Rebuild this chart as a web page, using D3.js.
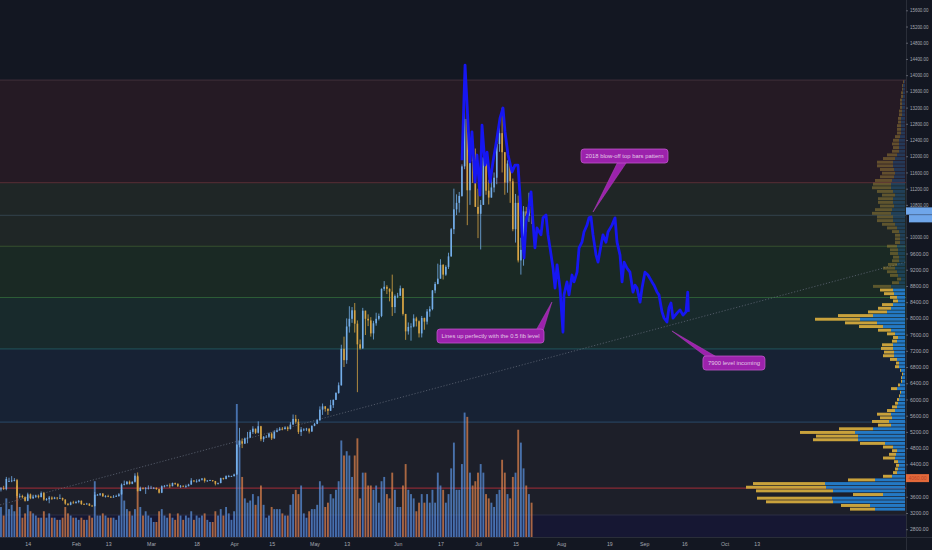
<!DOCTYPE html>
<html><head><meta charset="utf-8">
<script src="https://cdn.jsdelivr.net/npm/d3@7"></script>
<style>html,body{margin:0;padding:0;background:#131722;overflow:hidden}</style>
</head><body><svg id="c" width="932" height="550"></svg>
<script>
// ---------------- DATA ----------------
const firstCandleDay = "2019-01-04";
// daily [open, high, low, close]
const candles = [
// Jan 4-31
[3780,3840,3730,3810],[3810,3870,3770,3790],[3790,4090,3760,4040],[3990,4070,3970,3990],[3990,4110,3960,4000],
[4000,4060,3980,4010],[4010,4040,3570,3620],[3620,3680,3560,3620],[3620,3650,3560,3590],[3590,3610,3480,3500],
[3500,3700,3490,3660],[3660,3680,3540,3560],[3560,3650,3550,3600],[3600,3650,3570,3630],[3630,3640,3560,3590],
[3590,3730,3590,3690],[3690,3720,3500,3530],[3530,3570,3500,3540],[3540,3620,3440,3580],[3580,3610,3520,3550],
[3550,3600,3540,3580],[3580,3590,3530,3570],[3570,3660,3560,3570],[3570,3580,3500,3530],[3530,3540,3400,3430],
[3430,3440,3380,3400],[3400,3480,3390,3460],[3460,3500,3430,3440],
// Feb
[3440,3500,3440,3470],[3470,3520,3440,3500],[3500,3510,3400,3420],[3420,3440,3400,3410],[3410,3450,3410,3430],
[3430,3440,3370,3380],[3380,3400,3360,3370],[3370,3720,3360,3650],[3650,3670,3630,3650],[3650,3690,3620,3680],
[3680,3690,3600,3610],[3610,3640,3580,3620],[3620,3650,3590,3600],[3600,3620,3570,3580],[3580,3640,3580,3600],
[3600,3650,3600,3620],[3620,3690,3600,3660],[3660,3930,3650,3900],[3900,4000,3880,3910],[3910,3990,3900,3970],
[3970,4000,3900,3920],[3920,3980,3910,3970],[3970,4180,3950,4120],[4120,4200,3730,3740],[3740,3850,3740,3820],
[3820,3830,3780,3800],[3800,3840,3670,3810],[3810,3880,3780,3820],
// Mar
[3820,3870,3810,3820],[3820,3840,3790,3820],[3820,3830,3770,3790],[3790,3800,3680,3700],[3700,3880,3690,3860],
[3860,3890,3830,3870],[3870,3900,3860,3880],[3880,3930,3820,3860],[3860,3950,3860,3940],[3940,3950,3890,3920],
[3920,3930,3840,3860],[3860,3890,3820,3870],[3870,3880,3840,3860],[3860,3900,3820,3860],[3860,3920,3860,3900],
[3900,4060,3900,4000],[4000,4010,3960,3980],[3980,4030,3950,3980],[3980,4040,3970,4020],[4020,4060,4000,4050],
[4050,4070,3950,3990],[3990,4010,3970,4000],[4000,4020,3990,4010],[4010,4010,3970,3990],[3990,3990,3880,3920],
[3920,3950,3900,3940],[3940,4070,3930,4060],[4060,4070,4020,4040],[4040,4130,4030,4110],[4110,4140,4080,4110],
[4110,4120,4090,4110],
// Apr
[4110,4170,4100,4150],[4150,4900,4140,4880],[4880,5300,4820,4970],[4970,5040,4800,4910],[4910,5060,4900,5040],
[5040,5200,4920,5060],[5060,5250,5050,5200],[5200,5340,5150,5280],[5280,5280,5150,5180],[5180,5460,5160,5340],
[5340,5350,4970,5020],[5020,5100,4950,5080],[5080,5120,5060,5080],[5080,5180,5050,5160],[5160,5190,5000,5040],
[5040,5240,5030,5200],[5200,5290,5190,5240],[5240,5320,5230,5280],[5280,5320,5240,5270],[5270,5340,5260,5310],
[5310,5340,5220,5270],[5270,5440,5260,5380],[5380,5630,5380,5520],[5520,5620,5400,5450],[5450,5520,5150,5200],
[5200,5320,5100,5260],[5260,5290,5220,5260],[5260,5300,5220,5280],[5280,5290,5160,5210],[5210,5360,5200,5350],
// May
[5350,5420,5340,5400],[5400,5520,5390,5490],[5490,5830,5470,5750],[5750,5900,5620,5830],[5830,5840,5700,5770],
[5770,5780,5620,5720],[5720,5990,5720,5860],[5860,6000,5790,5990],[5990,6180,5990,6160],[6160,6420,6140,6350],
[6350,7350,6340,7250],[7250,7550,6800,6970],[6970,8000,6880,7800],[7800,8300,7650,7990],[7990,8280,7890,8200],
[8200,8380,7650,7870],[7870,7950,6180,7360],[7360,7480,7230,7260],[7260,8260,7250,8190],[8190,8190,7590,7990],
[7990,8100,7810,7950],[7950,8030,7550,7630],[7630,7940,7480,7880],[7880,8140,7820,7990],[7990,8120,7950,8060],
[8060,8740,8030,8730],[8730,8920,8680,8780],[8780,8820,8600,8730],[8730,8740,8420,8660],[8660,9080,8060,8280],
[8280,8590,8130,8550],
// Jun
[8550,8630,8500,8560],[8560,8810,8550,8740],[8740,8750,8070,8110],[8110,8110,7470,7680],[7680,7900,7600,7790],
[7790,7880,7450,7800],[7800,8100,7780,8000],[8000,8040,7800,7930],[7930,7950,7530,7630],[7630,8060,7530,8010],
[8010,8020,7720,7920],[7920,8230,7850,8170],[8170,8300,8040,8230],[8230,8700,8200,8690],[8690,8900,8620,8850],
[8850,9350,8840,8980],[8980,9460,8980,9320],[9320,9340,8960,9080],[9080,9310,9050,9270],[9270,9620,9220,9530],
[9530,10230,9520,10200],[10200,11200,10080,10690],[10690,11060,10550,10850],[10850,11120,10610,11020],[11020,11800,11000,11750],
[11750,13880,11680,12920],[12920,13300,10300,11160],[11160,12450,10800,12370],[12370,12400,11340,11880],[11880,12190,10760,10750],
// Jul 1-21
[10750,11200,9980,10580],[10580,10920,9700,10800],[10800,11980,10800,11970],[11970,12050,11050,11150],[11150,11420,10810,10980],
[10980,11700,10980,11230],[11230,11600,11110,11470],[11470,12350,11310,12300],[12300,12800,12110,12570],[12570,13200,11600,12100],
[12100,12100,11050,11350],[11350,11900,11100,11820],[11820,11840,10850,11380],[11380,11450,10150,10200],[10200,11070,9870,10850],
[10850,11030,9380,9430],[9430,9990,9080,9690],[9690,10770,9300,10640],[10640,10750,10140,10530],[10530,11100,10380,10760],
[10760,10840,10330,10590]
];
// daily volume (thousand BTC, approx.)
const volumes = [
14,10,18,13,15,12,24,14,9,11,15,12,11,10,9,9,12,9,11,9,9,8,8,9,14,11,10,9,
9,8,9,8,8,10,9,26,10,10,11,10,9,9,9,8,10,22,17,13,12,10,13,28,14,10,12,10,
9,7,7,12,13,10,9,11,9,8,11,10,8,10,9,12,8,10,9,10,11,8,7,7,12,10,13,10,14,11,8,
12,62,45,28,18,16,17,20,15,19,24,15,9,10,14,13,13,13,11,10,10,15,20,22,20,24,11,9,12,13,
13,15,26,24,14,16,20,18,22,26,45,38,40,38,28,38,46,18,30,30,24,24,22,24,16,26,28,20,18,30,22,
14,14,24,34,22,20,18,12,16,20,16,20,16,22,16,30,24,22,16,20,32,44,22,22,34,58,56,30,24,26,
30,34,30,20,18,16,14,20,22,36,30,20,18,28,30,50,44,32,24,20,16
];
// projected "2018 blow-off top" bars pattern [time, price]
const pattern = [
["2019-06-25T01",11900],["2019-06-26T04",14250],["2019-06-27T06",12840],["2019-06-28T00",11860],["2019-06-28T18",12600],
["2019-06-29T21",11360],["2019-06-30T15",12030],["2019-07-01T18",11040],["2019-07-02T12",12770],["2019-07-03T15",11780],
["2019-07-04T09",12100],["2019-07-05T12",11360],["2019-07-06T14",11860],["2019-07-08T02",12450],["2019-07-09T05",12940],
["2019-07-10T08",13190],["2019-07-11T02",12600],["2019-07-12T05",12030],["2019-07-13T17",11610],["2019-07-14T19",11780],
["2019-07-15T22",11780],["2019-07-16T16",11040],["2019-07-17T10",10130],["2019-07-18T04",9490],["2019-07-18T22",10380],
["2019-07-19T16",10620],["2019-07-20T19",11120],["2019-07-21T12",10380],["2019-07-22T06",9740],["2019-07-23T00",10230],
["2019-07-24T12",10060],["2019-07-25T06",10480],["2019-07-26T09",10550],["2019-07-27T03",10060],["2019-07-27T21",9740],
["2019-07-29T00",9240],["2019-07-29T18",8750],["2019-07-30T12",9320],["2019-07-31T14",8750],["2019-08-01T17",7660],
["2019-08-02T02",8580],["2019-08-03T05",8900],["2019-08-03T23",8580],["2019-08-05T02",9070],["2019-08-05T20",8900],
["2019-08-06T23",9140],["2019-08-07T17",9740],["2019-08-08T19",9880],["2019-08-09T13",10130],["2019-08-10T16",10300],
["2019-08-11T10",10480],["2019-08-12T04",10500],["2019-08-12T22",10060],["2019-08-14T01",9560],["2019-08-14T19",9390],
["2019-08-15T22",9810],["2019-08-16T15",10060],["2019-08-17T18",9880],["2019-08-18T12",10130],["2019-08-20T00",10300],
["2019-08-21T03",10480],["2019-08-21T21",9880],["2019-08-23T00",9560],["2019-08-23T18",8900],["2019-08-24T12",9390],
["2019-08-25T14",9240],["2019-08-26T17",9140],["2019-08-27T20",8650],["2019-08-28T14",8820],["2019-08-29T08",8750],
["2019-08-30T11",8400],["2019-08-31T05",8750],["2019-09-01T07",9140],["2019-09-02T10",9070],["2019-09-03T22",8900],
["2019-09-04T16",8820],["2019-09-05T19",8650],["2019-09-06T13",8580],["2019-09-07T16",8160],["2019-09-08T10",8010],
["2019-09-09T12",7910],["2019-09-10T06",8260],["2019-09-11T00",8380],["2019-09-11T18",8010],["2019-09-13T06",8130],
["2019-09-14T09",8210],["2019-09-15T12",8080],["2019-09-16T15",8160],["2019-09-17T06",8650],["2019-09-17T12",8160]
];
const fibLevels = [13880, 11350, 10540, 9780, 8515, 7250, 5440, 3150];
const redLevel = 3815;
const trendLine = [["2019-01-03T16",3400],["2019-12-07T16",9390]];
const xTickDates = ["2019-01-14","2019-02-01","2019-02-13","2019-03-01","2019-03-18","2019-04-01","2019-04-15","2019-05-01","2019-05-13","2019-06-01","2019-06-17","2019-07-01","2019-07-15","2019-08-01","2019-08-19","2019-09-01","2019-09-16","2019-10-01","2019-10-13"];
const xTickLabels = ["14","Feb","13","Mar","18","Apr","15","May","13","Jun","17","Jul","15","Aug","19","Sep","16","Oct","13"];
const yTickValues = [15600,15200,14800,14400,14000,13600,13200,12800,12400,12000,11600,11200,10800,10000,9600,9200,8800,8400,8000,7600,7200,6800,6400,6000,5600,5200,4800,4400,3600,3200,2800];
// volume profile (visible range), rows from low to high price
const vpLow = 3250, vpHigh = 13880, vpValueAreaRows = 61;
const vpUp = [30,35,72,73,22,72,79,80,30,13, 8,7,6,7,10,9,8,12,20,47, 47,50,32,14,16,13,14,10,8,7, 6,5,4,8,5,3,3,2,4,6, 6,8,11,11,12,12,8,7,10,14, 22,28,45,32,18,14,12,7,8,11, 12,14,6,4,7,8,10,8,6,6, 7,7,8,5,5,5,6,8,10,12, 12,14,13,11,12,12,10,12,14,14, 13,11,10,11,12,12,10,8,6,6, 6,6,5,4,4,4,4,4,3,3, 3,3,3,2,2,2,2,1];
const vpDown = [25,29,67,75,30,77,80,72,27,9, 4,3,3,4,12,7,5,10,25,45, 42,55,34,13,17,12,14,8,5,3, 2,1,1,6,2,1,1,1,1,4, 3,7,11,10,12,11,5,5,8,13, 24,32,45,35,19,13,11,5,7,10, 13,18,7,4,8,10,12,9,7,6, 8,8,10,5,5,5,7,10,13,16, 16,19,17,14,15,15,13,16,19,18, 17,14,13,14,16,16,12,10,7,6, 7,6,5,4,4,4,3,3,3,3, 2,2,2,2,2,1,1,1];
const notes = [
  {text:"2018 blow-off top bars pattern", boxTime:"2019-08-24T16", boxPrice:12178, tipTime:"2019-08-12T22", tipPrice:10624},
  {text:"Lines up perfectly with the 0.5 fib level", boxTime:"2019-07-05T16", boxPrice:7738, tipTime:"2019-07-28T14", tipPrice:8404},
  {text:"7900 level incoming", boxTime:"2019-10-04T12", boxPrice:7072, tipTime:"2019-09-11T09", tipPrice:7689}
];
const priceTags = [{price:10650, label:""},{price:10460, label:""}];
const orangeTag = {price:4060, label:"4060.00"};

// ---------------- CHART ----------------
const W = 932, H = 550, PW = 906, PH = 537;
const FONT = "Liberation Sans, Arial, sans-serif";
const svg = d3.select("#c");
const parseT = s => new Date(s.length === 10 ? s + "T00:00:00Z" : s + ":00:00Z");
const x = d3.scaleUtc().domain([Date.UTC(2019,0,3,15,24), Date.UTC(2019,11,7,16,48)]).range([0, PW]);
const y = d3.scaleLinear().domain([2800, 15600]).range([529.2, 10.3]);
const yVol = d3.scaleLinear().domain([0, 62]).range([PH, 404]);
const day0 = parseT(firstCandleDay);
const dayT = i => new Date(day0.getTime() + i * 86400000);

svg.append("rect").attr("width", W).attr("height", H).attr("fill", "#131722");
svg.append("defs").append("clipPath").attr("id", "plot").append("rect").attr("width", PW).attr("height", PH);
const g = svg.append("g").attr("clip-path", "url(#plot)");

// fib bands
const bandFill = ["#251a24", "#1f2626", "#1f2626", "#1a2924", "#182a2c", "#172234", "#1d1f29"];
const lineCol = ["#3a2b36", "#4d2a31", "#2e3c44", "#36502f", "#2c5c36", "#1f4c52", "#27405c", "#2c2f45"];
for (let i = 0; i < fibLevels.length - 1; i++) {
  g.append("rect").attr("x", 0).attr("width", PW)
    .attr("y", y(fibLevels[i])).attr("height", y(fibLevels[i + 1]) - y(fibLevels[i]))
    .attr("fill", bandFill[i]);
}
g.append("rect").attr("x", 0).attr("width", PW).attr("y", y(fibLevels[fibLevels.length - 1]))
  .attr("height", PH - y(fibLevels[fibLevels.length - 1])).attr("fill", "#161733");
fibLevels.forEach((p, i) => {
  g.append("line").attr("x1", 0).attr("x2", PW).attr("y1", y(p)).attr("y2", y(p))
    .attr("stroke", lineCol[i]).attr("stroke-width", 1.2);
});
g.append("line").attr("x1", 0).attr("x2", PW).attr("y1", y(redLevel)).attr("y2", y(redLevel))
  .attr("stroke", "#8a2a34").attr("stroke-width", 1.2);

// volume
const bw = x(dayT(1)) - x(dayT(0));
g.append("g").selectAll("rect").data(volumes).join("rect")
  .attr("x", (d, i) => x(dayT(i)) - bw * 0.35)
  .attr("width", bw * 0.7)
  .attr("y", d => yVol(d)).attr("height", d => PH - yVol(d))
  .attr("fill", (d, i) => candles[i][3] >= candles[i][0] ? "#5a92de" : "#e0834c")
  .attr("opacity", 0.72);

// trend line (dotted)
g.append("line")
  .attr("x1", x(parseT(trendLine[0][0]))).attr("y1", y(trendLine[0][1]))
  .attr("x2", x(parseT(trendLine[1][0]))).attr("y2", y(trendLine[1][1]))
  .attr("stroke", "#5d6474").attr("stroke-width", 0.8).attr("stroke-dasharray", "1.2,1.8");

// volume profile
const vpRow = (vpHigh - vpLow) / vpUp.length;
const vpX = d3.scaleLinear().domain([0, 160]).range([0, 160]);
const vp = g.append("g");
vpUp.forEach((u, i) => {
  const dn = vpDown[i];
  const top = y(vpLow + (i + 1) * vpRow), bot = y(vpLow + i * vpRow);
  const hh = Math.max(0.8, bot - top - 0.7);
  const inVA = i < vpValueAreaRows;
  const ux = PW - 1 - vpX(u), dx = ux - vpX(dn);
  vp.append("rect").attr("x", ux).attr("y", top + 0.35).attr("width", vpX(u)).attr("height", hh)
    .attr("fill", inVA ? "#2479c4" : "rgba(36,121,196,0.32)");
  vp.append("rect").attr("x", dx).attr("y", top + 0.35).attr("width", vpX(dn)).attr("height", hh)
    .attr("fill", inVA ? "#c9a23c" : "rgba(201,162,60,0.38)");
});

// candles
const cg = g.append("g");
candles.forEach((c, i) => {
  const cx = x(dayT(i));
  const up = c[3] >= c[0];
  const col = up ? "#74aeea" : "#d7a444";
  cg.append("line").attr("x1", cx).attr("x2", cx).attr("y1", y(c[1])).attr("y2", y(c[2]))
    .attr("stroke", col).attr("stroke-width", 0.8);
  const t = y(Math.max(c[0], c[3])), b = y(Math.min(c[0], c[3]));
  cg.append("rect").attr("x", cx - 0.8).attr("width", 1.6).attr("y", t).attr("height", Math.max(0.8, b - t))
    .attr("fill", col);
});

// pattern
g.append("path").datum(pattern)
  .attr("d", d3.line().x(d => x(parseT(d[0]))).y(d => y(d[1])))
  .attr("fill", "none").attr("stroke", "#1616f2").attr("stroke-width", 2.8).attr("stroke-linejoin", "round");

// notes
const noteW = [87, 107, 62], noteFit = [78, 98, 52];
const baseOff = [[-7, 2, "bottom"], [46, 53, "top"], [-28, -18, "top"]];
notes.forEach((n, i) => {
  const cx = x(parseT(n.boxTime)), top = y(n.boxPrice), w = noteW[i], h = 14;
  const tx = x(parseT(n.tipTime)), ty = y(n.tipPrice);
  const by = baseOff[i][2] === "bottom" ? top + h - 0.5 : top + 0.5;
  g.append("path").attr("d", `M${cx + baseOff[i][0]},${by}L${tx},${ty}L${cx + baseOff[i][1]},${by}Z`)
    .attr("fill", "#9c22ac").attr("stroke", "#b545c2").attr("stroke-width", 0.5);
  g.append("rect").attr("x", cx - w / 2).attr("y", top).attr("width", w).attr("height", h).attr("rx", 3)
    .attr("fill", "#9c22ac").attr("stroke", "#c056cc").attr("stroke-width", 0.8);
  g.append("text").attr("x", cx).attr("y", top + h / 2 + 2).attr("text-anchor", "middle")
    .attr("font-family", FONT).attr("font-size", 5.6)
    .attr("fill", "#e2c9e6").attr("textLength", noteFit[i]).attr("lengthAdjust", "spacingAndGlyphs")
    .text(n.text);
});

// axes
svg.append("line").attr("x1", PW + 0.5).attr("x2", PW + 0.5).attr("y1", 0).attr("y2", H).attr("stroke", "#2a2e39");
svg.append("line").attr("x1", 0).attr("x2", W).attr("y1", PH + 0.5).attr("y2", PH + 0.5).attr("stroke", "#2a2e39");

const yAxis = svg.append("g").attr("transform", `translate(${PW},0)`)
  .call(d3.axisRight(y).tickValues(yTickValues).tickFormat(d => d.toFixed(2)).tickSize(2).tickPadding(2));
yAxis.select(".domain").remove();
yAxis.selectAll("line").attr("stroke", "#5d606b");
yAxis.selectAll("text").attr("fill", "#a5a8b1").attr("font-size", 4.9).attr("font-family", FONT)
  .attr("textLength", 18.5).attr("lengthAdjust", "spacingAndGlyphs");

const xAxis = svg.append("g").attr("transform", `translate(0,${PH})`)
  .call(d3.axisBottom(x).tickValues(xTickDates.map(parseT)).tickFormat((d, i) => xTickLabels[i]).tickSize(0).tickPadding(5));
xAxis.select(".domain").remove();
xAxis.selectAll("text").attr("fill", "#a5a8b1").attr("font-size", 5.2).attr("font-family", FONT);

// price tags on axis
svg.append("rect").attr("x", PW).attr("y", y(priceTags[0].price) - 3.6).attr("width", W - PW).attr("height", 7.3).attr("fill", "#6fa6ea");
svg.append("rect").attr("x", PW + 3).attr("y", y(priceTags[1].price) - 3.6).attr("width", W - PW - 3).attr("height", 7.3).attr("fill", "#6fa6ea");
svg.append("rect").attr("x", PW).attr("y", y(orangeTag.price) - 4).attr("width", 23).attr("height", 8).attr("fill", "#e3693a");
svg.append("text").attr("x", PW + 11.5).attr("y", y(orangeTag.price) + 1.8).attr("text-anchor", "middle")
  .attr("font-size", 4.9).attr("font-family", FONT).attr("fill", "#b8452a")
  .attr("textLength", 18).attr("lengthAdjust", "spacingAndGlyphs").text(orangeTag.label);
</script></body></html>
